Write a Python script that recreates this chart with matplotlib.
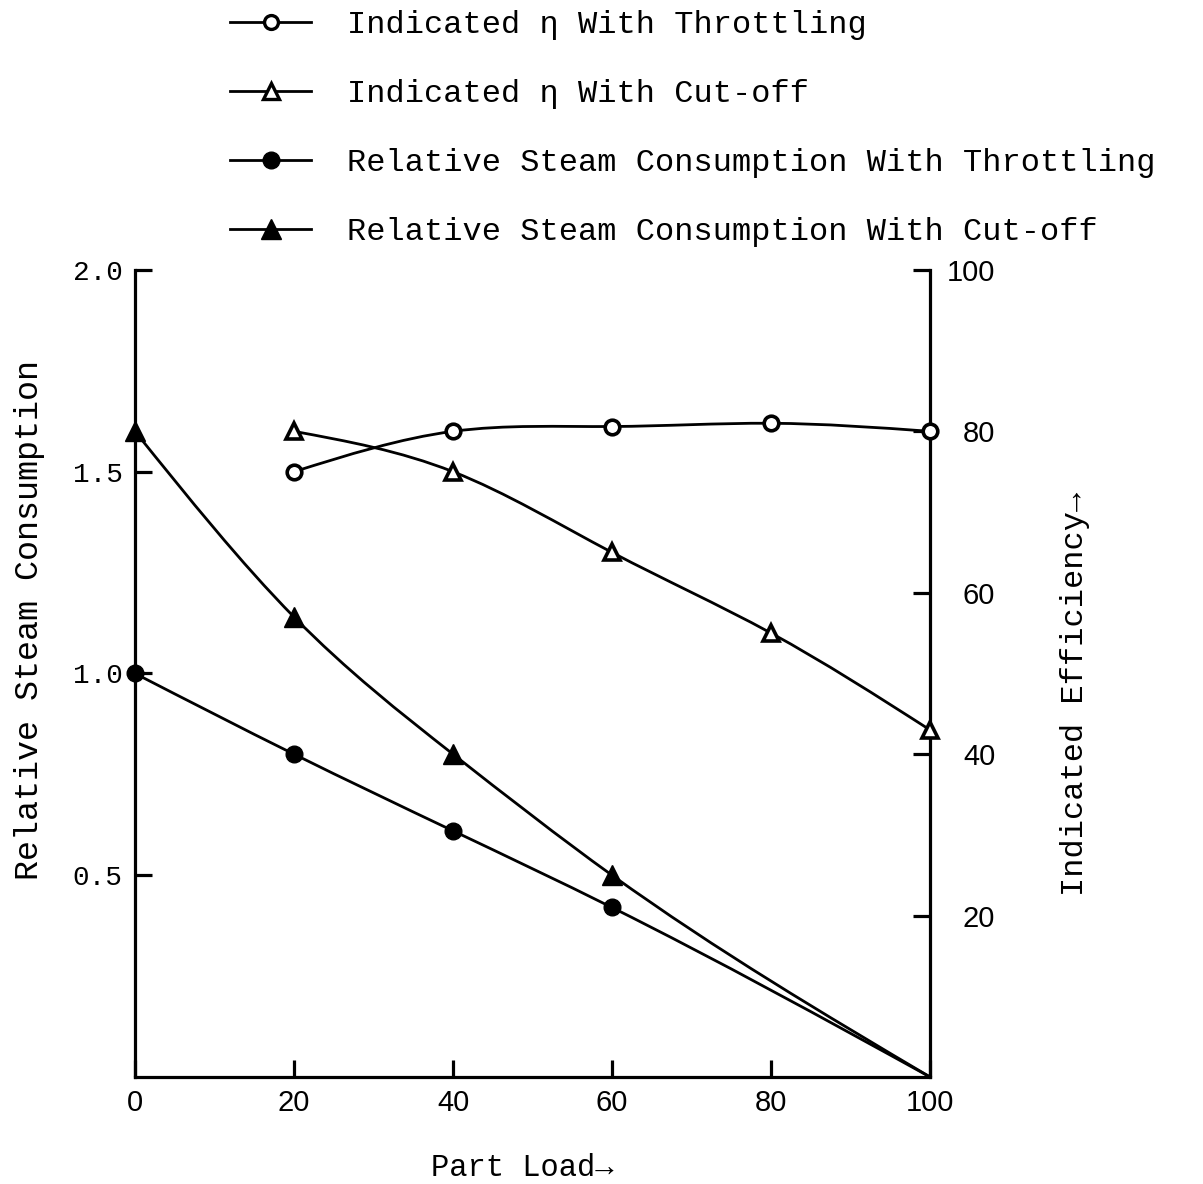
import numpy as np
import matplotlib
matplotlib.use("Agg")
import matplotlib.pyplot as plt
from matplotlib.path import Path
from matplotlib.patches import PathPatch
from matplotlib.lines import Line2D
from matplotlib.font_manager import FontProperties

# ---- data -------------------------------------------------------------
load_eff = [20, 40, 60, 80, 100]              # part load, %
eff_throttling = [75, 80, 80.6, 81, 80]        # indicated efficiency, %
eff_cutoff = [80, 75, 65, 55, 43]

load_steam = [0, 20, 40, 60, 100]
steam_throttling = [1.0, 0.80, 0.61, 0.42, 0.0]  # relative steam consumption
steam_cutoff = [1.6, 1.14, 0.80, 0.50, 0.0]

x_ticks = [0, 20, 40, 60, 80, 100]
left_ticks = [0.5, 1.0, 1.5, 2.0]
right_ticks = [20, 40, 60, 80, 100]

legend_labels = [
    "Indicated \u03b7 With Throttling",
    "Indicated \u03b7 With Cut-off",
    "Relative Steam Consumption With Throttling",
    "Relative Steam Consumption With Cut-off",
]

MONO = ["Liberation Mono", "DejaVu Sans Mono"]
SANS = ["Liberation Sans", "DejaVu Sans"]
LW = 2.0


def spline_slopes(xs, ys):
    """End-point slopes of a natural cubic spline through the points."""
    n = len(xs)
    h = np.diff(xs)
    A = np.zeros((n, n))
    b = np.zeros(n)
    A[0, 0] = A[-1, -1] = 1.0
    for i in range(1, n - 1):
        A[i, i - 1] = h[i - 1]
        A[i, i] = 2 * (h[i - 1] + h[i])
        A[i, i + 1] = h[i]
        b[i] = 6 * ((ys[i + 1] - ys[i]) / h[i] - (ys[i] - ys[i - 1]) / h[i - 1])
    M = np.linalg.solve(A, b)
    m = np.empty(n)
    for i in range(n - 1):
        m[i] = (ys[i + 1] - ys[i]) / h[i] - h[i] * (2 * M[i] + M[i + 1]) / 6
    m[-1] = (ys[-1] - ys[-2]) / h[-1] + h[-1] * (M[-2] + 2 * M[-1]) / 6
    return m


def smooth_path(xs, ys):
    """Bezier path following a natural cubic spline through the points."""
    xs = np.asarray(xs, float)
    ys = np.asarray(ys, float)
    m = spline_slopes(xs, ys)
    verts = [(xs[0], ys[0])]
    codes = [Path.MOVETO]
    for i in range(len(xs) - 1):
        h = xs[i + 1] - xs[i]
        verts += [(xs[i] + h / 3, ys[i] + m[i] * h / 3),
                  (xs[i + 1] - h / 3, ys[i + 1] - m[i + 1] * h / 3),
                  (xs[i + 1], ys[i + 1])]
        codes += [Path.CURVE4] * 3
    return Path(verts, codes)


def draw_curve(axis, xs, ys):
    patch = PathPatch(smooth_path(xs, ys), facecolor="none", edgecolor="black",
                      lw=LW, zorder=2, clip_on=False, capstyle="round")
    axis.add_patch(patch)


fig = plt.figure(figsize=(12.03, 11.84), dpi=100)
ax = fig.add_axes([0.1122, 0.0904, 0.6609, 0.6816])
ax.set_xlim(0, 100)
ax.set_ylim(0, 2.0)
ax2 = ax.twinx()
ax2.set_ylim(0, 100)

for s in ("top", "right"):
    ax.spines[s].set_visible(False)
for s in ("top", "left", "bottom"):
    ax2.spines[s].set_visible(False)
for sp in (ax.spines["left"], ax.spines["bottom"], ax2.spines["right"]):
    sp.set_linewidth(2.3)
    sp.set_capstyle("projecting")

# ticks
ax.set_xticks(x_ticks)
ax.set_xticklabels([str(v) for v in x_ticks], fontfamily=SANS, fontsize=21)
ax.tick_params(axis="x", direction="in", length=12, width=2.3, pad=9)
ax.set_yticks(left_ticks)
ax.set_yticklabels([f"{v:.1f}" for v in left_ticks], fontfamily=MONO, fontsize=20)
ax.tick_params(axis="y", direction="in", length=12, width=2.3, pad=9)
ax2.set_yticks(right_ticks)
ax2.set_yticklabels([str(v) for v in right_ticks], fontfamily=SANS, fontsize=21)
ax2.tick_params(axis="y", direction="in", length=12, width=2.3, pad=47)
for lab in ax2.get_yticklabels():
    lab.set_horizontalalignment("right")

# curves
draw_curve(ax2, load_eff, eff_throttling)
draw_curve(ax2, load_eff, eff_cutoff)
draw_curve(ax, load_steam, steam_throttling)
draw_curve(ax, load_steam, steam_cutoff)

# markers
ax2.plot(load_eff, eff_throttling, ls="none", marker="o", ms=10.5, mfc="white",
         mec="black", mew=2.6, zorder=4, clip_on=False)
ax2.plot(load_eff, eff_cutoff, ls="none", marker="^", ms=12, mfc="white",
         mec="black", mew=2.6, zorder=4, clip_on=False)
marked = [0, 1, 2, 3]
ax.plot(load_steam, steam_throttling, ls="none", marker="o", ms=12, color="black",
        markevery=marked, zorder=4, clip_on=False)
ax.plot(load_steam, steam_cutoff, ls="none", marker="^", ms=14, color="black",
        markevery=marked, zorder=4, clip_on=False)

# axis titles
fig.text(30 / 1203, 1 - 620 / 1184, "Relative Steam Consumption", rotation=90,
         ha="center", va="center", fontfamily=MONO, fontsize=24)
fig.text(1075 / 1203, 1 - 694 / 1184, "Indicated Efficiency\u2192", rotation=90,
         ha="center", va="center", fontfamily=MONO, fontsize=23)
fig.text(522 / 1203, 1 - 1168 / 1184, "Part Load\u2192",
         ha="center", va="center", fontfamily=MONO, fontsize=22)

# legend
handles = [
    Line2D([], [], color="black", lw=LW, marker="o", ms=10, mfc="white", mec="black", mew=2.4),
    Line2D([], [], color="black", lw=LW, marker="^", ms=12, mfc="white", mec="black", mew=2.4),
    Line2D([], [], color="black", lw=LW, marker="o", ms=12),
    Line2D([], [], color="black", lw=LW, marker="^", ms=14),
]
fig.legend(handles, legend_labels, loc="upper left",
           bbox_to_anchor=(230 / 1203, 1 - 10 / 1184), frameon=False,
           prop=FontProperties(family=MONO, size=23), numpoints=1,
           handlelength=2.55, handletextpad=1.1, labelspacing=1.22,
           borderpad=0, borderaxespad=0)

fig.savefig("out.png", dpi=100, facecolor="white")
